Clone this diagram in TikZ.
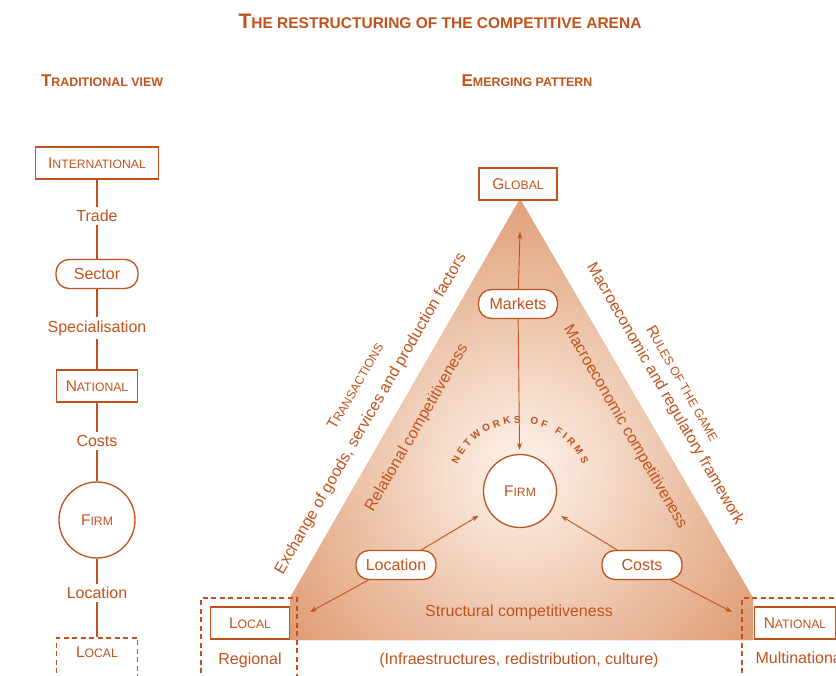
\documentclass[tikz,border=0pt]{standalone}
\usepackage{fontspec}
\setmainfont{Liberation Sans}
\usepackage{tikz}
\usetikzlibrary{decorations.text,arrows.meta}

\definecolor{ink}{RGB}{194,82,28}
\definecolor{tri}{RGB}{218,142,96}
\definecolor{triin}{RGB}{254,244,236}

\newcommand{\boxcaps}[2]{{\fontsize{15.5}{17}\selectfont#1}{\fontsize{12.2}{14}\selectfont#2}}
\newcommand{\headcaps}[2]{{\bfseries\fontsize{17}{19}\selectfont#1}{\bfseries\fontsize{12.4}{14}\selectfont#2}}
\newcommand{\titlecaps}[2]{{\bfseries\fontsize{21}{23}\selectfont#1}{\bfseries\fontsize{15.5}{17}\selectfont#2}}

\tikzset{
  lbl/.style={text=ink, font=\fontsize{16}{18}\selectfont},
  levelbox/.style={draw=ink, line width=1.3pt, fill=white, text=ink, minimum height=32pt, inner sep=2pt},
  pill/.style={draw=ink, line width=1.3pt, fill=white, text=ink, rounded corners=13pt, minimum height=29pt, inner xsep=8pt, font=\fontsize{16}{18}\selectfont},
  firmcirc/.style={draw=ink, line width=1.3pt, fill=white, text=ink, circle, minimum size=73pt},
  dashbox/.style={draw=ink, line width=1.6pt, dash pattern=on 5pt off 3.5pt},
  link/.style={draw=ink, line width=1.3pt},
  arr/.style={draw=ink, line width=0.9pt, ->, >={Stealth[length=7pt,width=5pt]}}
}

\begin{document}
\begin{tikzpicture}[x=1pt,y=-1pt]
\useasboundingbox (0,0) rectangle (836,676);

% headings
\node[text=ink] (title) at (440,21) {\titlecaps{T}{HE RESTRUCTURING OF THE COMPETITIVE ARENA}};
\node[text=ink] (tradhead) at (102,81) {\headcaps{T}{RADITIONAL VIEW}};
\node[text=ink] (emerghead) at (527,81) {\headcaps{E}{MERGING PATTERN}};

% traditional view
\node[levelbox, minimum width=123pt] (intl) at (97,163) {\boxcaps{I}{NTERNATIONAL}};
\node[lbl] (trade) at (97,216) {Trade};
\node[pill, minimum width=82pt] (sector) at (97,274) {Sector};
\node[lbl] (spec) at (97,328) {Specialisation};
\node[levelbox, minimum width=81pt] (natl) at (97,386) {\boxcaps{N}{ATIONAL}};
\node[lbl] (costs) at (97,441) {Costs};
\node[firmcirc, minimum size=76pt] (firm) at (97,520) {\boxcaps{F}{IRM}};
\node[lbl] (loc) at (97,593) {Location};
\node[dashbox, text=ink, anchor=north, minimum width=81pt, inner ysep=11pt, text height=9pt, text depth=40pt] (local) at (97,637) {\boxcaps{L}{OCAL}};
\draw[link] (intl) -- (trade) -- (sector) -- (spec) -- (natl) -- (costs) -- (firm) -- (loc) -- (local);

% emerging pattern: triangle
\fill[tri] (520,199) -- (290,598) -- (290,640) -- (753,640) -- (753,598) -- cycle;
\begin{scope}
  \clip (520,199) -- (290,598) -- (290,640) -- (753,640) -- (753,598) -- cycle;
  \shade[inner color=triin, outer color=tri] (520,470) circle (330);
\end{scope}

\node[levelbox, minimum width=78pt] (global) at (518,184) {\boxcaps{G}{LOBAL}};
\node[pill, minimum width=79pt] (markets) at (518,304) {Markets};
\node[firmcirc] (efirm) at (520,491) {\boxcaps{F}{IRM}};
\node[pill, minimum width=80pt] (eloc) at (396,565) {Location};
\node[pill, minimum width=80pt] (ecosts) at (642,565) {Costs};
\coordinate (apex) at (520,232);
\coordinate (lcorner) at (310,612);
\coordinate (rcorner) at (732,612);

\draw[arr] (markets) -- (apex);
\draw[arr, shorten >=4pt] (markets) -- (efirm);
\draw[arr, shorten >=11pt] (eloc) -- (efirm);
\draw[arr, shorten >=11pt] (ecosts) -- (efirm);
\draw[arr] (eloc) -- (lcorner);
\draw[arr] (ecosts) -- (rcorner);

\path[decorate, decoration={text along path, text align=fit to path,
  text={|\color{ink}\bfseries\fontsize{10}{10}\selectfont|NETWORKS OF FIRMS}}]
  (efirm.center) ++(203:68) arc[start angle=203, end angle=337, radius=68];

% side labels
\node[text=ink, rotate=60] (trans) at (355,386) {\boxcaps{T}{RANSACTIONS}};
\node[lbl, rotate=60] (exch) at (371,414) {Exchange of goods, services and production factors};
\node[lbl, rotate=60] (relat) at (417,428) {Relational competitiveness};
\node[lbl, rotate=-60] (macroin) at (625,427) {Macroeconomic competitiveness};
\node[lbl, rotate=-60] (macroout) at (665,394) {Macroeconomic and regulatory framework};
\node[text=ink, rotate=-60] (rules) at (683,383) {\boxcaps{R}{ULES OF THE GAME}};

% bottom
\node[lbl] (struct) at (519,612) {Structural competitiveness};
\node[lbl] (infra) at (519,660) {(Infraestructures, redistribution, culture)};
\node[text=ink] (resources) at (519,683) {\boxcaps{R}{ESOURCES}};

\draw[dashbox] (201,690) -- (201,598) -- (297,598) -- (297,690);
\node[levelbox, minimum width=79pt] (elocal) at (250,623) {\boxcaps{L}{OCAL}};
\node[lbl] (regional) at (250,660) {Regional};

\draw[dashbox] (742,690) -- (742,598) -- (850,598);
\node[levelbox, minimum width=81pt] (enatl) at (795,623) {\boxcaps{N}{ATIONAL}};
\node[lbl, anchor=west] (multi) at (752,658) {Multinational};
\end{tikzpicture}
\end{document}
